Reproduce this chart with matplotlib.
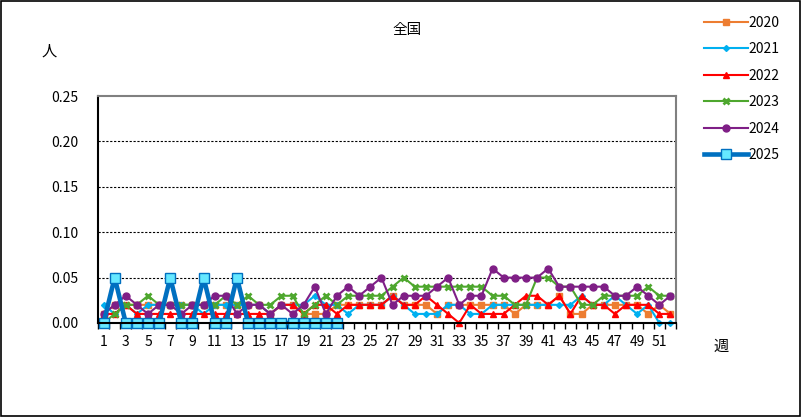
import matplotlib
matplotlib.use("Agg")
import matplotlib.pyplot as plt
import numpy as np
from matplotlib.ticker import FixedLocator

plt.rcParams['font.family'] = ['Noto Sans CJK JP', 'DejaVu Sans']

# 週別データ（全国、人）
weeks = np.arange(1, 53)
v2020 = [0.01, 0.02, 0.02, 0.02, 0.02, 0.02, 0.02, 0.02, 0.02, 0.02,
         0.02, 0.02, 0.02, 0.02, 0.02, 0.01, 0.02, 0.02, 0.01, 0.01,
         0.01, 0.02, 0.02, 0.02, 0.02, 0.02, 0.03, 0.02, 0.02, 0.02,
         0.01, 0.02, 0.02, 0.02, 0.02, 0.02, 0.02, 0.01, 0.02, 0.02,
         0.02, 0.03, 0.01, 0.01, 0.02, 0.02, 0.02, 0.02, 0.02, 0.01, 0.02, 0.01]
v2021 = [0.02, 0.01, 0.02, 0.01, 0.02, 0.02, 0.02, 0.02, 0.02, 0.01,
         0.02, 0.02, 0.02, 0.02, 0.02, 0.01, 0.02, 0.02, 0.02, 0.03,
         0.02, 0.02, 0.01, 0.02, 0.02, 0.02, 0.03, 0.02, 0.01, 0.01,
         0.01, 0.02, 0.02, 0.01, 0.01, 0.02, 0.02, 0.02, 0.02, 0.02,
         0.02, 0.02, 0.02, 0.03, 0.02, 0.02, 0.03, 0.02, 0.01, 0.02, 0.00, 0.00]
v2022 = [0.01, 0.01, 0.02, 0.01, 0.01, 0.01, 0.01, 0.01, 0.01, 0.01,
         0.01, 0.01, 0.01, 0.01, 0.01, 0.01, 0.02, 0.02, 0.01, 0.02,
         0.02, 0.01, 0.02, 0.02, 0.02, 0.02, 0.03, 0.02, 0.02, 0.03,
         0.02, 0.01, 0.00, 0.02, 0.01, 0.01, 0.01, 0.02, 0.03, 0.03,
         0.02, 0.03, 0.01, 0.03, 0.02, 0.02, 0.01, 0.02, 0.02, 0.02, 0.01, 0.01]
v2023 = [0.00, 0.01, 0.02, 0.02, 0.03, 0.02, 0.02, 0.02, 0.02, 0.02,
         0.02, 0.03, 0.02, 0.03, 0.02, 0.02, 0.03, 0.03, 0.01, 0.02,
         0.03, 0.02, 0.03, 0.03, 0.03, 0.03, 0.04, 0.05, 0.04, 0.04,
         0.04, 0.04, 0.04, 0.04, 0.04, 0.03, 0.03, 0.02, 0.02, 0.05,
         0.05, 0.04, 0.04, 0.02, 0.02, 0.03, 0.03, 0.03, 0.03, 0.04, 0.03, 0.03]
v2024 = [0.01, 0.02, 0.03, 0.02, 0.01, 0.02, 0.02, 0.01, 0.02, 0.02,
         0.03, 0.03, 0.01, 0.02, 0.02, 0.01, 0.02, 0.01, 0.02, 0.04,
         0.01, 0.03, 0.04, 0.03, 0.04, 0.05, 0.02, 0.03, 0.03, 0.03,
         0.04, 0.05, 0.02, 0.03, 0.03, 0.06, 0.05, 0.05, 0.05, 0.05,
         0.06, 0.04, 0.04, 0.04, 0.04, 0.04, 0.03, 0.03, 0.04, 0.03, 0.02, 0.03]
v2025 = [0.00, 0.05, 0.00, 0.00, 0.00, 0.00, 0.05, 0.00, 0.00, 0.05,
         0.00, 0.00, 0.05, 0.00, 0.00, 0.00, 0.00, 0.00, 0.00, 0.00, 0.00, 0.00]

fig = plt.figure(figsize=(8.01, 4.17), dpi=100)
ax = fig.add_axes([98/801, 94/417, 578/801, 227/417])

ax.plot(weeks, v2020, color='#ED7D31', lw=1.5, marker='s', ms=5, label='2020', clip_on=False)
ax.plot(weeks, v2021, color='#00B0F0', lw=1.5, marker='D', ms=3, label='2021', clip_on=False)
ax.plot(weeks, v2022, color='#FF0000', lw=1.5, marker='^', ms=5, label='2022', clip_on=False)
ax.plot(weeks, v2023, color='#4EA72E', lw=1.5, marker='x', ms=5, mew=2, label='2023', clip_on=False)
ax.plot(weeks, v2024, color='#7F1F86', lw=1.5, marker='o', ms=5, label='2024', clip_on=False)
ax.plot(weeks[:len(v2025)], v2025, color='#0070C0', lw=3.3, marker='s', ms=7,
        mfc='#66E8FF', mec='#0070C0', mew=1, label='2025', clip_on=False)

ax.set_xlim(0.5, 52.5)
ax.set_ylim(0, 0.25)
ax.set_yticks([0, 0.05, 0.10, 0.15, 0.20, 0.25])
ax.set_yticklabels(['0.00', '0.05', '0.10', '0.15', '0.20', '0.25'])
ax.tick_params(axis='y', length=0, pad=14, labelsize=10)
ax.set_xticks(np.arange(1, 53, 2))
ax.tick_params(axis='x', which='major', length=0, pad=9, labelsize=10)
ax.xaxis.set_minor_locator(FixedLocator(np.arange(0.5, 53, 1)))
ax.tick_params(axis='x', which='minor', length=4, width=1, direction='out', color='black')

for y in [0.05, 0.10, 0.15, 0.20]:
    ax.axhline(y, color='black', lw=0.8, ls=(0, (2, 1.5)), zorder=0)

ax.spines['left'].set_color('black')
ax.spines['bottom'].set_color('black')
ax.spines['top'].set_color('#808080')
ax.spines['right'].set_color('#808080')
for s in ax.spines.values():
    s.set_linewidth(1.5)

fig.text(407/801, 1 - 30/417, '全国', ha='center', va='center', fontsize=10.5)
fig.text(49/801, 1 - 51/417, '人', ha='center', va='center', fontsize=11)
fig.text(721/801, 1 - 346/417, '週', ha='center', va='center', fontsize=11)

fig.legend(loc='upper left', bbox_to_anchor=(698/801, 1 - 10/417), frameon=False,
           fontsize=10, handlelength=3.2, labelspacing=0.9, handletextpad=0.05,
           borderaxespad=0)

fig.add_artist(plt.Rectangle((0.001, 0.002), 0.998, 0.996, transform=fig.transFigure,
                             fill=False, ec='black', lw=1.2))

fig.savefig('out.png', dpi=100)
